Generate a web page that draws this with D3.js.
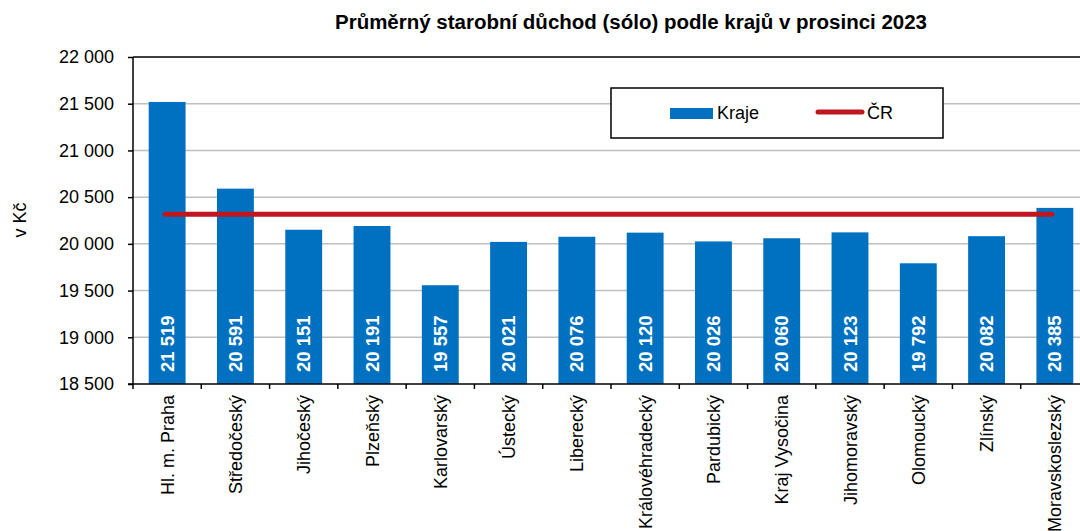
<!DOCTYPE html>
<html>
<head>
<meta charset="utf-8">
<script src="https://cdn.jsdelivr.net/npm/d3@7"></script>
<style>
  body { margin: 0; background: #fff; }
  svg { display: block; font-family: "Liberation Sans", Arial, sans-serif; }
</style>
</head>
<body>
<svg id="chart" width="1080" height="531"></svg>
<script>
// data
const regions = ['Hl. m. Praha', 'Středočeský', 'Jihočeský', 'Plzeňský', 'Karlovarský', 'Ústecký',
  'Liberecký', 'Královéhradecký', 'Pardubický', 'Kraj Vysočina', 'Jihomoravský', 'Olomoucký',
  'Zlínský', 'Moravskoslezský']
const pension = [21519, 20591, 20151, 20191, 19557, 20021, 20076, 20120, 20026, 20060, 20123, 19792, 20082, 20385]
const crAverage = [20316]
const yTicks = [18500, 19000, 19500, 20000, 20500, 21000, 21500, 22000]

const blue = '#0070c0'
const red = '#c0161f'

const svg = d3.select('#chart')
const plotLeft = 133, plotRight = 1089, plotTop = 57, plotBottom = 384

const x = d3.scaleBand()
  .domain(regions)
  .range([plotLeft, plotRight])
  .paddingInner(0.46)
  .paddingOuter(0.23)

const y = d3.scaleLinear().domain([18500, 22000]).range([plotBottom, plotTop])

const fmt = v => d3.format(',')(v).replace(/,/g, ' ')

// grid
svg.append('g')
  .selectAll('line')
  .data(yTicks.filter(t => t > 18500 && t < 22000))
  .join('line')
  .attr('x1', plotLeft).attr('x2', 1080)
  .attr('y1', d => y(d)).attr('y2', d => y(d))
  .attr('stroke', '#c0c0c0').attr('stroke-width', 1.5)

// top frame line
svg.append('line')
  .attr('x1', plotLeft).attr('x2', 1080)
  .attr('y1', y(22000)).attr('y2', y(22000))
  .attr('stroke', '#000').attr('stroke-width', 1.5)

// bars
svg.append('g')
  .selectAll('rect')
  .data(pension)
  .join('rect')
  .attr('x', (d, i) => x(regions[i]))
  .attr('y', d => y(d))
  .attr('width', x.bandwidth())
  .attr('height', d => plotBottom - y(d))
  .attr('fill', blue)

// value labels inside bars
svg.append('g')
  .selectAll('text')
  .data(pension)
  .join('text')
  .attr('transform', (d, i) => `translate(${x(regions[i]) + x.bandwidth() / 2 + 6.5},372) rotate(-90)`)
  .attr('fill', '#fff')
  .attr('font-weight', 'bold')
  .attr('font-size', 18.5)
  .text(d => fmt(d))

// CR line
svg.append('line')
  .datum(crAverage[0])
  .attr('x1', x(regions[0]) + x.bandwidth() / 2 - 2)
  .attr('x2', x(regions[regions.length - 1]) + x.bandwidth() / 2 - 3)
  .attr('y1', d => y(d)).attr('y2', d => y(d))
  .attr('stroke', red).attr('stroke-width', 5).attr('stroke-linecap', 'round')

// y axis
const yAxis = svg.append('g')
  .attr('transform', `translate(${plotLeft},0)`)
  .call(d3.axisLeft(y).tickValues(yTicks).tickFormat(fmt).tickSize(5).tickPadding(14))
yAxis.select('.domain').attr('stroke', '#000').attr('stroke-width', 1.5).attr('d', `M0,${plotTop}V${plotBottom}`)
yAxis.selectAll('.tick line').attr('stroke', '#000').attr('stroke-width', 1.5)
yAxis.selectAll('.tick text').attr('font-size', 18).attr('fill', '#000')
  .attr('font-family', '"Liberation Sans", Arial, sans-serif')

// x axis: ticks between categories
const step = x.step()
const xAxis = svg.append('g')
xAxis.append('line')
  .attr('x1', plotLeft - 5).attr('x2', 1080)
  .attr('y1', plotBottom).attr('y2', plotBottom)
  .attr('stroke', '#000').attr('stroke-width', 1.5)
xAxis.selectAll('line.tk')
  .data(d3.range(regions.length))
  .join('line')
  .attr('class', 'tk')
  .attr('x1', i => plotLeft + i * step).attr('x2', i => plotLeft + i * step)
  .attr('y1', plotBottom).attr('y2', plotBottom + 5)
  .attr('stroke', '#000').attr('stroke-width', 1.5)
xAxis.selectAll('text')
  .data(regions)
  .join('text')
  .attr('transform', d => `translate(${x(d) + x.bandwidth() / 2 + 6.5},395) rotate(-90)`)
  .attr('text-anchor', 'end')
  .attr('font-size', 18)
  .attr('fill', '#000')
  .text(d => d)

// y title
svg.append('text')
  .attr('transform', 'translate(26,220) rotate(-90)')
  .attr('text-anchor', 'middle')
  .attr('font-size', 18)
  .text('v Kč')

// title
svg.append('text')
  .attr('x', 631).attr('y', 29)
  .attr('text-anchor', 'middle')
  .attr('font-weight', 'bold')
  .attr('font-size', 19.5)
  .attr('textLength', 592)
  .attr('lengthAdjust', 'spacingAndGlyphs')
  .text('Průměrný starobní důchod (sólo) podle krajů v prosinci 2023')

// legend
const lg = svg.append('g')
lg.append('rect')
  .attr('x', 611).attr('y', 88).attr('width', 332).attr('height', 50)
  .attr('fill', '#fff').attr('stroke', '#000').attr('stroke-width', 1.5)
lg.append('rect')
  .attr('x', 670).attr('y', 108).attr('width', 43).attr('height', 11)
  .attr('fill', blue)
lg.append('text').attr('x', 717).attr('y', 119).attr('font-size', 18).text('Kraje')
lg.append('line')
  .attr('x1', 818).attr('x2', 862).attr('y1', 112).attr('y2', 112)
  .attr('stroke', red).attr('stroke-width', 5).attr('stroke-linecap', 'round')
lg.append('text').attr('x', 867).attr('y', 119).attr('font-size', 18).text('ČR')
</script>
</body>
</html>
